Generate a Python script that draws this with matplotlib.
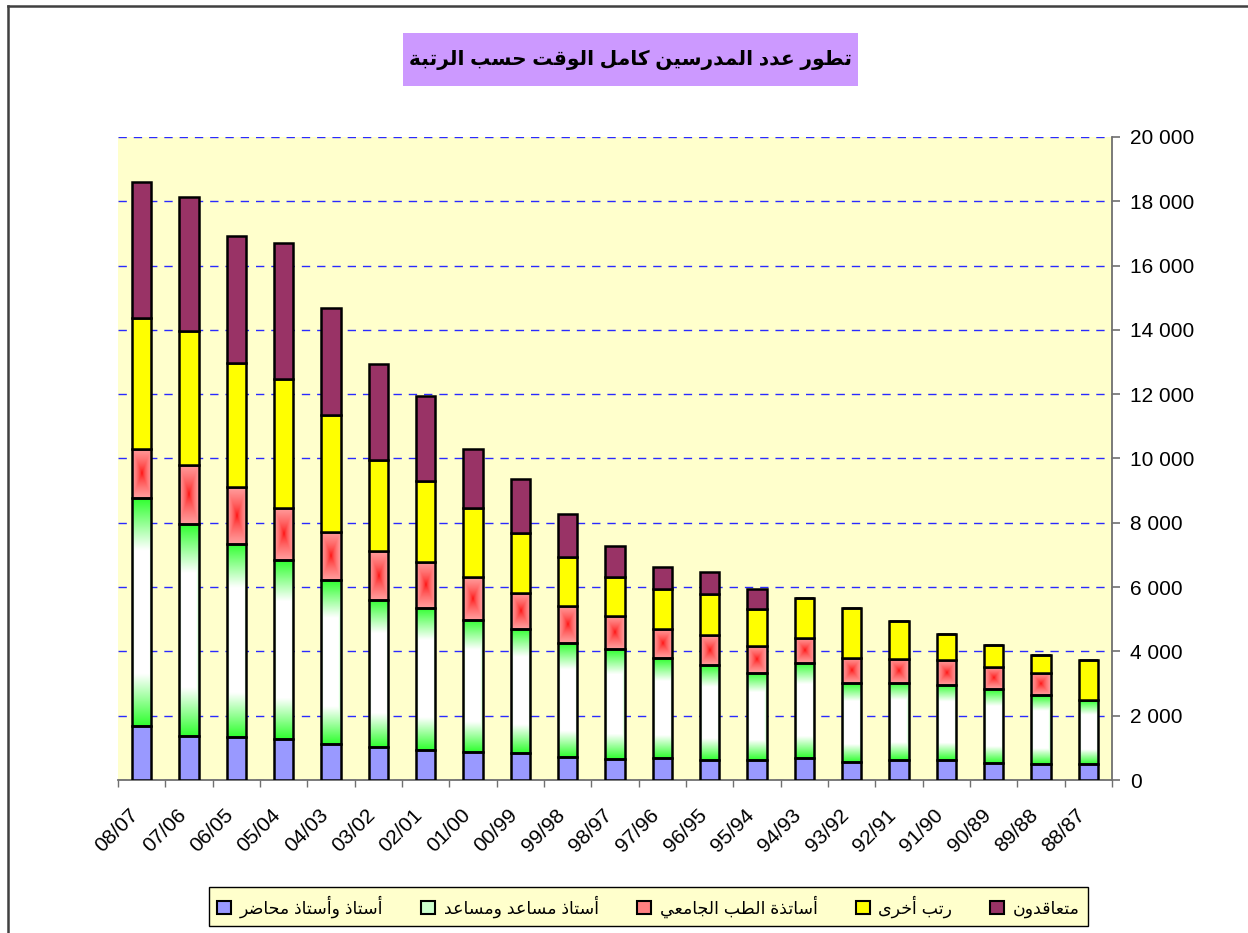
import matplotlib
matplotlib.use('Agg')
import matplotlib.pyplot as plt
import matplotlib.transforms as mtransforms
from matplotlib.lines import Line2D
from matplotlib.patches import Rectangle
from matplotlib.ticker import FuncFormatter
import numpy as np

plt.rcParams['font.family'] = ['Liberation Sans', 'DejaVu Sans']

# data
years = ['08/07', '07/06', '06/05', '05/04', '04/03', '03/02', '02/01', '01/00', '00/99', '99/98', '98/97',
         '97/96', '96/95', '95/94', '94/93', '93/92', '92/91', '91/90', '90/89', '89/88', '88/87']
prof = [1690, 1370, 1330, 1280, 1120, 1020, 920, 860, 830, 730, 660, 670, 620, 610, 670, 570, 610, 610, 540, 510, 510]
assist = [7080, 6590, 6010, 5550, 5090, 4590, 4430, 4120, 3860, 3520, 3410, 3110, 2950, 2710, 2960, 2440, 2400,
          2360, 2300, 2140, 1990]
medic = [1530, 1840, 1770, 1630, 1500, 1510, 1440, 1330, 1120, 1160, 1030, 910, 930, 840, 790, 780, 750, 750,
         690, 690, 0]
other = [4080, 4180, 3870, 4010, 3630, 2840, 2500, 2140, 1860, 1530, 1220, 1260, 1270, 1160, 1230, 1560, 1180,
         810, 680, 560, 1230]
contract = [4220, 4140, 3940, 4220, 3350, 2990, 2650, 1850, 1690, 1320, 950, 690, 700, 610, 0, 0, 0, 0, 0, 0, 0]

series_names = ['أستاذ وأستاذ محاضر', 'أستاذ مساعد ومساعد', 'أساتذة الطب الجامعي', 'رتب أخرى', 'متعاقدون']
title = 'تطور عدد المدرسين كامل الوقت حسب الرتبة'

# arabic shaping (matplotlib has no bidi/shaping) -> presentation forms, right to left
AR_LETTERS = 'ءآأؤإئابةتثجحخدذرزسشصضطظعغفقكلمنهوىي'
AR_NFORMS = [1, 2, 2, 2, 2, 4, 2, 4, 2, 4, 4, 4, 4, 4, 2, 2, 2, 2, 4, 4, 4, 4, 4, 4, 4, 4, 4, 4, 4, 4, 4, 4, 4, 2, 2, 4]
forms = {}
code = 0xFE80
for ch, n in zip(AR_LETTERS, AR_NFORMS):
    forms[ch] = [chr(code + k) for k in range(n)]
    code += n


def ar(text):
    out = []
    for i, ch in enumerate(text):
        if ch not in forms:
            out.append(ch)
            continue
        f = forms[ch]
        prev = text[i - 1] if i > 0 else ''
        nxt = text[i + 1] if i + 1 < len(text) else ''
        join_prev = prev in forms and len(forms[prev]) == 4
        join_next = len(f) == 4 and nxt in forms and len(forms[nxt]) > 1
        if len(f) == 1:
            out.append(f[0])
        elif join_prev and join_next:
            out.append(f[3])
        elif join_prev:
            out.append(f[1])
        elif join_next:
            out.append(f[2])
        else:
            out.append(f[0])
    return ''.join(reversed(out))


fig = plt.figure(figsize=(12.48, 9.33), dpi=100)
ax = fig.add_axes([118 / 1248, 1 - 780 / 933, (1112 - 118) / 1248, (780 - 137) / 933])
ax.set_facecolor('#FFFFCC')

x = np.arange(len(years))
w = 0.41
vals = [prof, assist, medic, other, contract]
cols = ['#9999FF', '#CCFFCC', '#FF8080', '#FFFF00', '#993366']
bottom = np.zeros(len(years))
bar_sets = []
for v, c, name in zip(vals, cols, series_names):
    bars = ax.bar(x, v, w, bottom=bottom, color=c, edgecolor='black', linewidth=1.8, zorder=3, label=ar(name))
    bar_sets.append(bars)
    bottom = bottom + np.array(v)

ax.set_xlim(-0.5, len(years) - 0.5)
ax.set_ylim(0, 20000)

# legend
leg = ax.legend(loc='center', bbox_to_anchor=(648.5 / 1248, 1 - 906.5 / 933), bbox_transform=fig.transFigure,
                ncol=5, fontsize=12.5, frameon=True, fancybox=False, facecolor='#FFFFCC', edgecolor='black',
                framealpha=1, handlelength=0.8, handleheight=0.8, handletextpad=0.5, columnspacing=2.2,
                borderpad=0.45)
leg.get_frame().set_linewidth(1.0)
for h in leg.legend_handles:
    h.set_linewidth(1.5)

# gradient fills (green: white center, red: red center)
yy, xx = np.mgrid[-1:1:80j, -1:1:30j]
t_red = np.maximum(np.abs(xx), np.abs(yy))
s = t_red ** 0.55
img_red = np.dstack([np.ones_like(s), 0.62 * s, 0.62 * s])
t_grn = np.maximum(0.7 * np.abs(xx), np.abs(yy))
s = np.clip((t_grn - 0.55) / 0.45, 0, 1)
img_grn = np.dstack([1 - 0.8 * s, np.ones_like(s), 1 - 0.8 * s])
for bars, img in [(bar_sets[1], img_grn), (bar_sets[2], img_red)]:
    for p in bars:
        p.set_facecolor('none')
        if p.get_height() <= 0:
            continue
        ax.imshow(img, extent=[p.get_x(), p.get_x() + p.get_width(), p.get_y(), p.get_y() + p.get_height()],
                  origin='lower', aspect='auto', interpolation='bilinear', zorder=2.5)
ax.set_xlim(-0.5, len(years) - 0.5)
ax.set_ylim(0, 20000)

# grid and axes
ax.yaxis.grid(True, color='#2a2aff', linestyle=(0, (6, 5)), linewidth=1.0)
ax.set_axisbelow(True)
for s_ in ['left', 'top']:
    ax.spines[s_].set_visible(False)
ax.spines['right'].set_color('#707070')
ax.spines['bottom'].set_color('#707070')
ax.spines['right'].set_linewidth(1.3)
ax.spines['bottom'].set_linewidth(1.3)

ax.yaxis.tick_right()
ax.set_yticks(np.arange(0, 20001, 2000))
ax.yaxis.set_major_formatter(FuncFormatter(lambda v, p: f'{int(v):,}'.replace(',', ' ')))
ax.tick_params(axis='y', length=6, width=1.2, color='#707070', pad=7, labelsize=15)

ax.set_xticks(x)
ax.set_xticklabels(years, rotation=45, ha='right', va='center', rotation_mode='anchor', fontsize=15)
ax.set_xticks(np.arange(-0.5, len(years), 1), minor=True)
ax.tick_params(axis='x', which='major', length=0, pad=23)
ax.tick_params(axis='x', which='minor', length=5, width=1.0, color='#707070')
shift = mtransforms.ScaledTranslation(-6 / 100, 0, fig.dpi_scale_trans)
for lab in ax.get_xticklabels():
    lab.set_transform(lab.get_transform() + shift)

# title box
fig.patches.append(Rectangle((403 / 1248, 1 - 86 / 933), 455 / 1248, 53 / 933, transform=fig.transFigure,
                             facecolor='#CC99FF', edgecolor='none'))
fig.text(630.5 / 1248, 1 - 60 / 933, ar(title), ha='center', va='center', fontsize=14.5, fontweight='bold')

# outer chart border
fig.add_artist(Line2D([8 / 1248, 8 / 1248], [1 - 6 / 933, 0], color='#404040', lw=1.8))
fig.add_artist(Line2D([8 / 1248, 1], [1 - 6 / 933, 1 - 6 / 933], color='#404040', lw=1.8))

plt.savefig('out.png', dpi=100)
